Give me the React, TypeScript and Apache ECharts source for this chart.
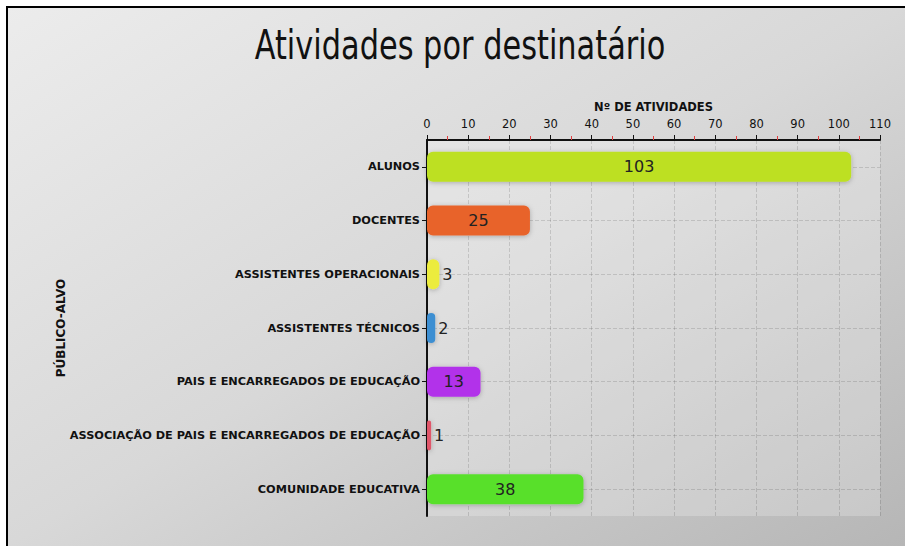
import React, { useEffect, useRef } from "react";
import * as echarts from "echarts";

const categories = [
  "ALUNOS",
  "DOCENTES",
  "ASSISTENTES OPERACIONAIS",
  "ASSISTENTES TÉCNICOS",
  "PAIS E ENCARREGADOS DE EDUCAÇÃO",
  "ASSOCIAÇÃO DE PAIS E ENCARREGADOS DE EDUCAÇÃO",
  "COMUNIDADE EDUCATIVA",
];
const values = [103, 25, 3, 2, 13, 1, 38];
const colors = ["#bde024", "#e8642c", "#ecec3c", "#3d8fd2", "#b232ea", "#e0566a", "#58e02c"];
const xTicks = { min: 0, max: 110, interval: 10 };
const titleText = "Atividades por destinatário";

const GRID_TOP = 140;
const GRID_BOTTOM = 30;
const GRID_LEFT = 427;
const GRID_RIGHT = 25;

export default function App() {
  const ref = useRef<HTMLDivElement>(null);
  useEffect(() => {
    if (!ref.current) return;
    const chart = echarts.init(ref.current, undefined, { renderer: "svg" });
    const plotH = 546 - GRID_TOP - GRID_BOTTOM;
    const band = plotH / categories.length;
    const font = "DejaVu Sans";
    chart.setOption({
      animation: false,
      graphic: [
        {
          type: "rect",
          z: -10,
          silent: true,
          shape: { x: 6, y: 7, width: 899, height: 539 },
          style: {
            fill: new echarts.graphic.LinearGradient(0, 0, 1, 1, [
              { offset: 0, color: "#ececec" },
              { offset: 0.5, color: "#d8d8d8" },
              { offset: 1, color: "#b6b6b6" },
            ]),
          },
        },
        { type: "line", z: -5, silent: true, shape: { x1: 6, y1: 7, x2: 905, y2: 7 }, style: { stroke: "#000", lineWidth: 2 } },
        { type: "line", z: -5, silent: true, shape: { x1: 7, y1: 7, x2: 7, y2: 546 }, style: { stroke: "#000", lineWidth: 2 } },
        {
          type: "text",
          z: 10,
          x: 460,
          y: 45,
          scaleX: 0.76,
          style: {
            text: titleText,
            font: '40px "DejaVu Sans", sans-serif',
            textAlign: "center",
            textVerticalAlign: "middle",
            fill: "#111",
          },
        },
      ],
      grid: [
        {
          left: GRID_LEFT,
          right: GRID_RIGHT,
          top: GRID_TOP,
          bottom: GRID_BOTTOM,
          show: true,
          backgroundColor: "rgba(255,255,255,0.22)",
          borderWidth: 0,
        },
        {
          left: GRID_LEFT,
          right: GRID_RIGHT,
          top: GRID_TOP + band / 2,
          bottom: GRID_BOTTOM + band / 2,
        },
      ],
      xAxis: [
        {
          type: "value",
          position: "top",
          min: xTicks.min,
          max: xTicks.max,
          interval: xTicks.interval,
          name: "Nº DE ATIVIDADES",
          nameLocation: "middle",
          nameGap: 26,
          nameTextStyle: { fontFamily: font, fontSize: 11.5, color: "#111", fontWeight: "bold" },
          axisLine: { show: true, lineStyle: { color: "#111", width: 2 } },
          axisTick: { show: true, length: 5, lineStyle: { color: "#111" } },
          minorTick: { show: true, splitNumber: 2, length: 4, lineStyle: { color: "#e04040" } },
          axisLabel: { fontFamily: font, fontSize: 11.5, color: "#111", margin: 10 },
          splitLine: { show: true, lineStyle: { type: "dashed", color: "rgba(0,0,0,0.13)" } },
        },
        { type: "value", gridIndex: 1, min: 0, max: 110, show: false },
      ],
      yAxis: [
        {
          type: "category",
          data: categories,
          inverse: true,
          name: "PÚBLICO-ALVO",
          nameLocation: "middle",
          nameRotate: 90,
          nameGap: GRID_LEFT - 67,
          nameMoveOverlap: false,
          nameTextStyle: { fontFamily: font, fontSize: 12, color: "#111", fontWeight: "bold" },
          axisLine: { show: true, lineStyle: { color: "#111", width: 2 } },
          axisTick: { show: true, alignWithLabel: true, length: 5, lineStyle: { color: "#111" } },
          axisLabel: { fontFamily: font, fontSize: 11.3, color: "#111", margin: 7, fontWeight: "bold" },
          splitLine: { show: false },
        },
        {
          type: "value",
          gridIndex: 1,
          min: 0,
          max: 6,
          interval: 1,
          axisLine: { show: false },
          axisTick: { show: false },
          axisLabel: { show: false },
          splitLine: { show: true, lineStyle: { type: "dashed", color: "rgba(0,0,0,0.13)" } },
        },
      ],
      series: [
        {
          type: "bar",
          barWidth: 30,
          data: values.map((v, i) => ({
            value: v,
            itemStyle: {
              color: colors[i],
              borderRadius: 6,
              shadowBlur: 5,
              shadowColor: "rgba(0,0,0,0.25)",
              shadowOffsetY: 1,
            },
            label: {
              show: true,
              position: v < 5 ? "right" : "inside",
              distance: 3,
              fontFamily: font,
              fontSize: 16,
              color: "#222",
            },
          })),
        },
      ],
    });
    return () => chart.dispose();
  }, []);
  return (
    <div
      ref={ref}
      style={{ position: "fixed", left: 0, top: 0, width: 905, height: 546, background: "#fff" }}
    />
  );
}
